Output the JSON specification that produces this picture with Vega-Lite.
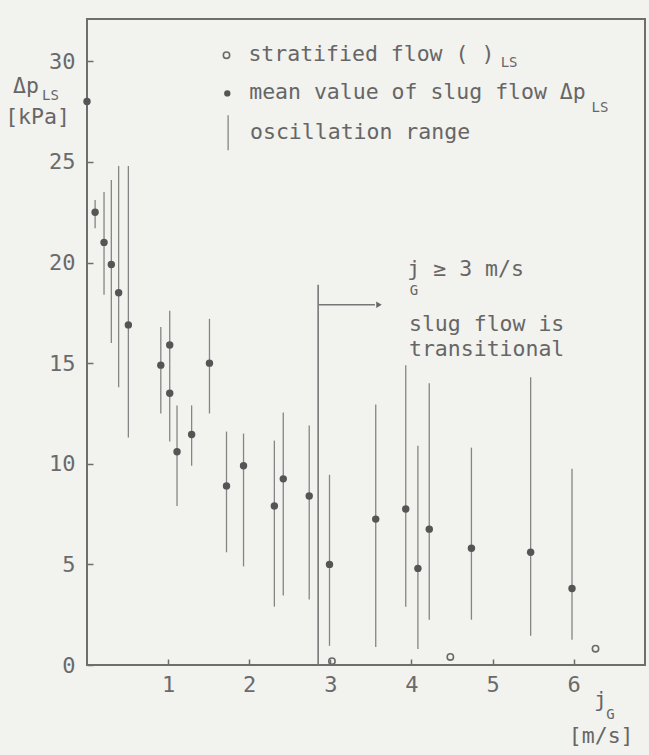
{
  "$schema": "https://vega.github.io/schema/vega-lite/v6.json",
  "width": 558,
  "height": 646,
  "autosize": "none",
  "padding": {"left": 87, "top": 19, "right": 4, "bottom": 90},
  "background": "#f2f2ef",
  "config": {
    "view": {"stroke": "#6e6e6e", "strokeWidth": 2},
    "font": "DejaVu Sans Mono",
    "axis": {
      "grid": false,
      "domain": false,
      "labelFont": "DejaVu Sans Mono",
      "labelFontSize": 22,
      "labelColor": "#6a6a6a",
      "tickColor": "#6e6e6e",
      "tickWidth": 1.5,
      "tickSize": 6,
      "offset": -6,
      "title": null
    },
    "text": {"font": "DejaVu Sans Mono", "color": "#666666"}
  },
  "datasets": {
    "slug": [
      {"jG": 0.0, "dp": 28.0, "lo": null, "hi": null},
      {"jG": 0.10, "dp": 22.5, "lo": 21.7, "hi": 23.1},
      {"jG": 0.21, "dp": 21.0, "lo": 18.4, "hi": 23.5},
      {"jG": 0.30, "dp": 19.9, "lo": 16.0, "hi": 24.1},
      {"jG": 0.39, "dp": 18.5, "lo": 13.8, "hi": 24.8},
      {"jG": 0.51, "dp": 16.9, "lo": 11.3, "hi": 24.8},
      {"jG": 0.91, "dp": 14.9, "lo": 12.5, "hi": 16.8},
      {"jG": 1.02, "dp": 15.9, "lo": 15.0, "hi": 17.6},
      {"jG": 1.02, "dp": 13.5, "lo": 11.1, "hi": 15.0},
      {"jG": 1.11, "dp": 10.6, "lo": 7.9, "hi": 12.9},
      {"jG": 1.29, "dp": 11.45, "lo": 9.9, "hi": 12.9},
      {"jG": 1.51, "dp": 15.0, "lo": 12.5, "hi": 17.2},
      {"jG": 1.72, "dp": 8.9, "lo": 5.6, "hi": 11.6},
      {"jG": 1.93, "dp": 9.9, "lo": 4.9, "hi": 11.5},
      {"jG": 2.31, "dp": 7.9, "lo": 2.9, "hi": 11.15},
      {"jG": 2.42, "dp": 9.25, "lo": 3.45, "hi": 12.55},
      {"jG": 2.74, "dp": 8.4, "lo": 3.25, "hi": 11.9},
      {"jG": 2.99, "dp": 5.0, "lo": 0.95, "hi": 9.45},
      {"jG": 3.56, "dp": 7.25, "lo": 0.9, "hi": 12.95},
      {"jG": 3.93, "dp": 7.75, "lo": 2.9, "hi": 14.9},
      {"jG": 4.08, "dp": 4.8, "lo": 0.8, "hi": 10.9},
      {"jG": 4.22, "dp": 6.75, "lo": 2.25, "hi": 14.0},
      {"jG": 4.74, "dp": 5.8, "lo": 2.25, "hi": 10.8},
      {"jG": 5.47, "dp": 5.6, "lo": 1.45, "hi": 14.3},
      {"jG": 5.98, "dp": 3.8, "lo": 1.25, "hi": 9.75}
    ],
    "strat": [
      {"jG": 3.02, "dp": 0.19},
      {"jG": 4.48, "dp": 0.4},
      {"jG": 6.27, "dp": 0.81}
    ],
    "boundary": [{"jG": 2.85, "lo": 0, "hi": 18.9}],
    "arrow": [{"jG": 2.86, "jG2": 3.55, "dp": 17.9}],
    "arrowhead": [{"jG": 3.6, "dp": 17.9}],
    "legOpen": [{"jG": 1.72, "dp": 30.3}],
    "legDot": [{"jG": 1.73, "dp": 28.4}],
    "legBar": [{"jG": 1.74, "lo": 25.58, "hi": 27.32}],
    "textMain": [
      {"jG": 1.99, "dp": 30.32, "label": "stratified flow ( )"},
      {"jG": 2.0, "dp": 28.43, "label": "mean value of slug flow Δp"},
      {"jG": 2.01, "dp": 26.45, "label": "oscillation range"},
      {"jG": 3.95, "dp": 19.65, "label": "j ≥ 3 m/s"},
      {"jG": 3.97, "dp": 16.91, "label": "slug flow is"},
      {"jG": 3.97, "dp": 15.67, "label": "transitional"}
    ],
    "textSub": [
      {"jG": 5.10, "dp": 29.89, "label": "LS"},
      {"jG": 6.22, "dp": 27.66, "label": "LS"},
      {"jG": 3.98, "dp": 18.6, "label": "G"}
    ],
    "titleMain": [
      {"jG": -0.753, "dp": 28.72, "label": "Δp"},
      {"jG": -0.61, "dp": 27.18, "label": "[kPa]"},
      {"jG": 6.33, "dp": -1.78, "label": "j"},
      {"jG": 6.34, "dp": -3.57, "label": "[m/s]"}
    ],
    "titleSub": [
      {"jG": -0.45, "dp": 28.25, "label": "LS"},
      {"jG": 6.455, "dp": -2.47, "label": "G"}
    ]
  },
  "layer": [
    {
      "data": {"name": "slug"},
      "transform": [{"filter": "datum.lo != null"}],
      "mark": {"type": "rule", "color": "#858585", "strokeWidth": 1.3},
      "encoding": {
        "x": {"field": "jG", "type": "quantitative", "scale": {"domain": [0, 6.88], "nice": false, "zero": false},
              "axis": {"values": [1, 2, 3, 4, 5, 6], "format": "d", "labelPadding": 9}},
        "y": {"field": "lo", "type": "quantitative", "scale": {"domain": [0, 32.1], "nice": false, "zero": false},
              "axis": {"values": [0, 5, 10, 15, 20, 25, 30], "labelPadding": 12}},
        "y2": {"field": "hi"}
      }
    },
    {
      "data": {"name": "slug"},
      "mark": {"type": "point", "filled": true, "size": 55, "color": "#555555", "opacity": 1},
      "encoding": {
        "x": {"field": "jG", "type": "quantitative"},
        "y": {"field": "dp", "type": "quantitative"}
      }
    },
    {
      "data": {"name": "strat"},
      "mark": {"type": "point", "filled": false, "size": 40, "stroke": "#6a6a6a", "strokeWidth": 1.6, "opacity": 1},
      "encoding": {
        "x": {"field": "jG", "type": "quantitative"},
        "y": {"field": "dp", "type": "quantitative"}
      }
    },
    {
      "data": {"name": "boundary"},
      "mark": {"type": "rule", "color": "#777777", "strokeWidth": 1.6},
      "encoding": {
        "x": {"field": "jG", "type": "quantitative"},
        "y": {"field": "lo", "type": "quantitative"},
        "y2": {"field": "hi"}
      }
    },
    {
      "data": {"name": "arrow"},
      "mark": {"type": "rule", "color": "#777777", "strokeWidth": 1.3},
      "encoding": {
        "x": {"field": "jG", "type": "quantitative"},
        "x2": {"field": "jG2"},
        "y": {"field": "dp", "type": "quantitative"}
      }
    },
    {
      "data": {"name": "arrowhead"},
      "mark": {"type": "point", "shape": "triangle-right", "filled": true, "size": 40, "color": "#666666", "opacity": 1},
      "encoding": {
        "x": {"field": "jG", "type": "quantitative"},
        "y": {"field": "dp", "type": "quantitative"}
      }
    },
    {
      "data": {"name": "legOpen"},
      "mark": {"type": "point", "filled": false, "size": 40, "stroke": "#6a6a6a", "strokeWidth": 1.6, "opacity": 1},
      "encoding": {
        "x": {"field": "jG", "type": "quantitative"},
        "y": {"field": "dp", "type": "quantitative"}
      }
    },
    {
      "data": {"name": "legDot"},
      "mark": {"type": "point", "filled": true, "size": 40, "color": "#555555", "opacity": 1},
      "encoding": {
        "x": {"field": "jG", "type": "quantitative"},
        "y": {"field": "dp", "type": "quantitative"}
      }
    },
    {
      "data": {"name": "legBar"},
      "mark": {"type": "rule", "color": "#858585", "strokeWidth": 1.3},
      "encoding": {
        "x": {"field": "jG", "type": "quantitative"},
        "y": {"field": "lo", "type": "quantitative"},
        "y2": {"field": "hi"}
      }
    },
    {
      "data": {"name": "textMain"},
      "mark": {"type": "text", "align": "left", "baseline": "middle", "fontSize": 21.5, "color": "#666666"},
      "encoding": {
        "x": {"field": "jG", "type": "quantitative"},
        "y": {"field": "dp", "type": "quantitative"},
        "text": {"field": "label"}
      }
    },
    {
      "data": {"name": "textSub"},
      "mark": {"type": "text", "align": "left", "baseline": "middle", "fontSize": 14, "color": "#666666"},
      "encoding": {
        "x": {"field": "jG", "type": "quantitative"},
        "y": {"field": "dp", "type": "quantitative"},
        "text": {"field": "label"}
      }
    },
    {
      "data": {"name": "titleMain"},
      "mark": {"type": "text", "align": "center", "baseline": "middle", "fontSize": 21.5, "color": "#666666"},
      "encoding": {
        "x": {"field": "jG", "type": "quantitative"},
        "y": {"field": "dp", "type": "quantitative"},
        "text": {"field": "label"}
      }
    },
    {
      "data": {"name": "titleSub"},
      "mark": {"type": "text", "align": "center", "baseline": "middle", "fontSize": 14, "color": "#666666"},
      "encoding": {
        "x": {"field": "jG", "type": "quantitative"},
        "y": {"field": "dp", "type": "quantitative"},
        "text": {"field": "label"}
      }
    }
  ]
}
